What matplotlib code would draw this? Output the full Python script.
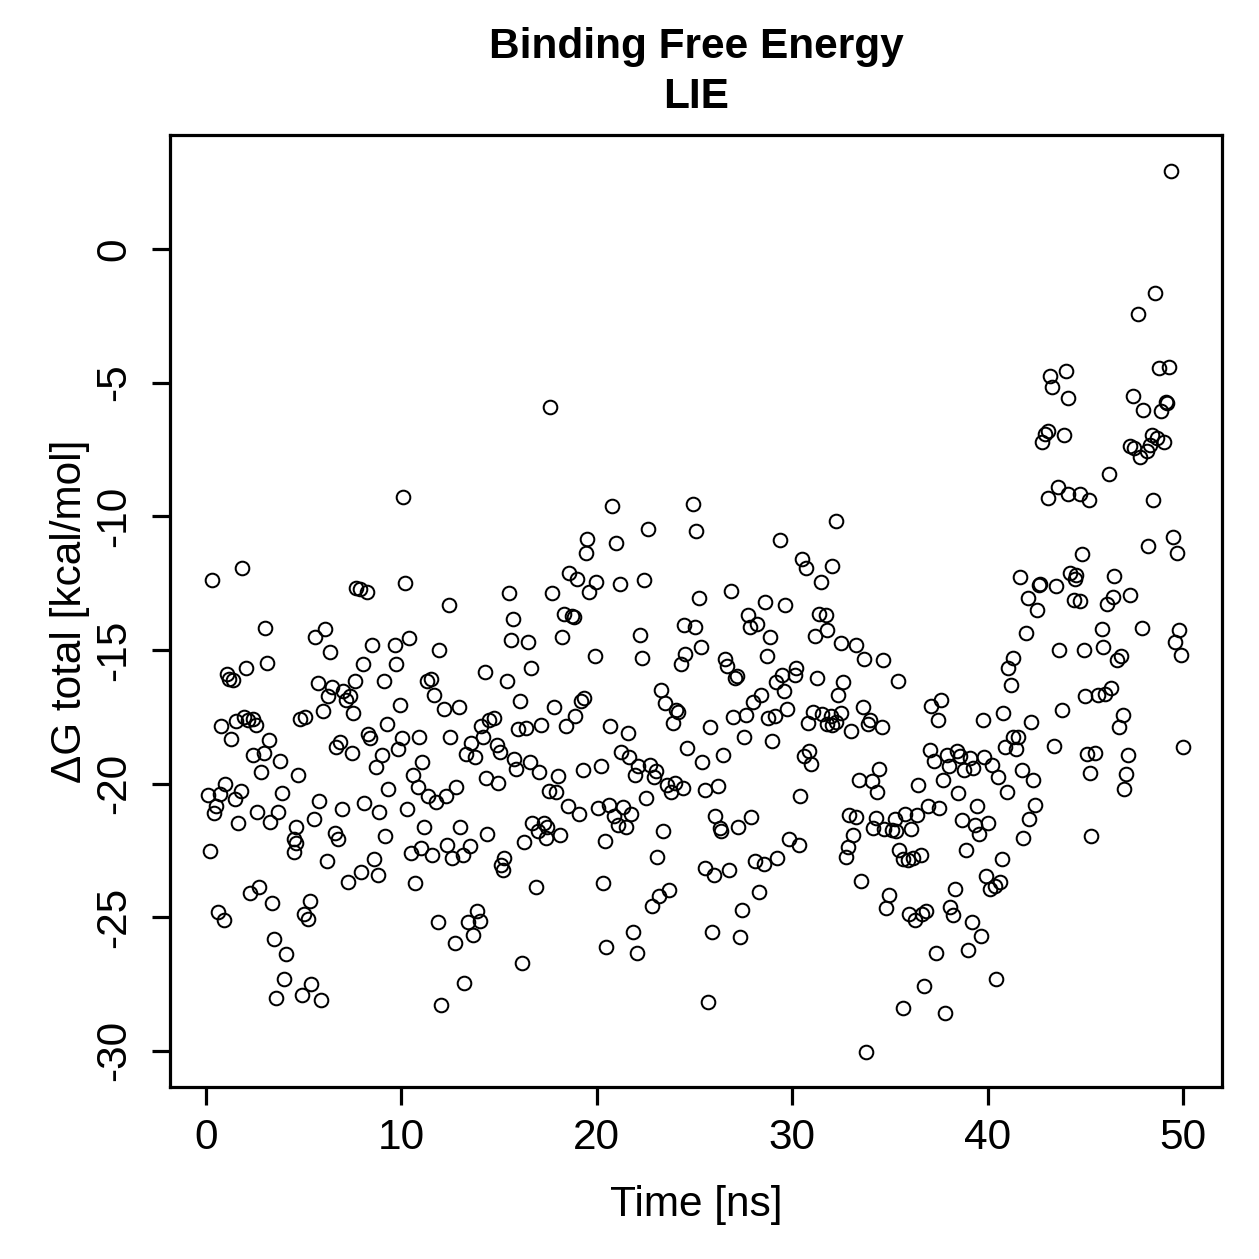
import matplotlib
matplotlib.use("Agg")
import matplotlib.pyplot as plt

# Simulation time [ns] and LIE binding free energy [kcal/mol]
time_ns = [
    0.31, 1.86, 3.02, 3.12, 2.06, 1.08, 1.20, 1.37, 0.79, 1.55,
    1.93, 2.16, 2.40, 2.56, 1.27, 3.22, 2.43, 2.96, 2.82, 3.80,
    1.00, 0.11, 0.71, 1.77, 1.47, 0.51, 0.40, 3.88, 2.63, 3.68,
    3.29, 1.65, 0.21, 2.26, 2.73, 3.40, 0.60, 0.91, 3.50, 4.08,
    3.98, 3.60,
    7.69, 7.86, 8.24, 6.07, 5.59, 6.35, 8.52, 8.04, 5.72, 6.45,
    6.25, 7.03, 7.15, 7.37, 7.64, 9.10, 7.54, 4.81, 5.09, 5.97,
    9.25, 8.31, 8.41, 6.87, 6.67, 7.45, 9.00, 8.69, 4.73, 9.30,
    5.80, 6.95, 8.11, 8.87, 5.51, 4.63, 4.51, 4.60, 4.50, 6.59,
    6.78, 9.15, 6.17, 8.59, 7.93, 8.79, 7.25, 5.33, 5.03, 5.23,
    5.39, 4.91, 5.89,
    10.11, 10.19, 12.43, 10.41, 9.65, 11.95, 9.75, 14.27, 11.29, 11.50,
    11.67, 12.16, 12.93, 9.91, 10.05, 9.82, 10.89, 12.51, 14.07, 14.50,
    14.19, 13.59, 13.29, 13.79, 11.07, 10.58, 10.84, 11.37, 11.79, 12.27,
    12.81, 10.28, 14.32, 11.14, 12.98, 14.39, 10.51, 10.99, 11.57, 12.36,
    12.61, 13.16, 13.51, 10.68, 11.87, 13.39, 13.89, 14.04, 13.69, 12.73,
    13.23, 12.05,
    17.63, 19.50, 19.44, 18.59, 19.01, 19.59, 15.51, 17.73, 18.31, 18.71,
    18.84, 15.70, 15.63, 16.47, 18.21, 16.64, 15.39, 16.07, 17.81, 19.17,
    19.37, 18.89, 14.76, 15.96, 16.39, 17.15, 18.41, 14.87, 15.03, 15.78,
    15.89, 16.57, 17.05, 18.03, 19.29, 14.96, 17.55, 17.93, 18.51, 19.09,
    16.69, 16.99, 17.32, 17.43, 17.38, 18.11, 16.27, 15.26, 15.10, 15.19,
    16.89, 16.16,
    20.78, 22.60, 20.98, 19.98, 21.18, 22.44, 22.22, 24.46, 19.93, 22.33,
    24.54, 24.29, 23.31, 23.51, 24.04, 24.16, 23.89, 20.70, 21.59, 24.62,
    21.26, 21.66, 22.13, 21.97, 22.72, 23.04, 22.93, 20.20, 23.59, 23.99,
    23.79, 24.41, 22.53, 20.07, 20.61, 20.90, 21.36, 21.76, 21.11, 21.49,
    23.41, 20.40, 23.09, 20.31, 23.71, 23.21, 22.83, 21.85, 20.48, 22.05,
    24.93, 25.10, 29.38, 25.21, 26.86, 28.61, 29.66, 27.75, 27.83, 28.21,
    25.02, 28.88, 25.32, 28.70, 26.56, 26.67, 27.06, 27.17, 29.49, 29.16,
    29.57, 28.41, 28.01, 26.95, 27.62, 28.75, 29.11, 29.74, 27.52, 28.99,
    25.80, 25.40, 26.46, 25.56, 26.19, 26.06, 26.29, 26.36, 27.25, 27.92,
    29.82, 25.52, 25.98, 26.75, 28.08, 28.55, 29.24, 28.30, 27.45, 25.88,
    27.34, 25.68,
    32.26, 30.52, 30.72, 32.04, 31.46, 31.35, 31.71, 31.78, 31.16, 32.50,
    33.28, 33.69, 34.66, 30.18, 30.14, 31.28, 32.62, 32.37, 31.08, 30.80,
    31.55, 31.79, 32.01, 32.04, 32.26, 32.49, 33.61, 33.86, 33.99, 34.58,
    33.00, 30.88, 30.60, 30.98, 34.44, 33.40, 34.11, 34.36, 30.38, 32.90,
    33.28, 33.12, 32.84, 32.74, 34.28, 34.16, 34.72, 30.35, 33.50, 34.94,
    34.82, 33.80,
    35.42, 37.12, 37.62, 37.44, 39.77, 37.06, 37.24, 37.92, 38.43, 38.57,
    38.03, 38.78, 39.11, 39.28, 39.84, 37.74, 36.46, 38.49, 39.48, 36.96,
    37.52, 38.70, 39.35, 39.58, 40.00, 35.25, 35.78, 36.38, 35.09, 35.34,
    36.08, 35.47, 35.67, 35.92, 36.17, 36.60, 38.90, 39.94, 40.14, 38.32,
    38.10, 38.23, 35.99, 36.66, 36.86, 36.28, 39.18, 39.68, 38.98, 37.36,
    36.75, 35.67, 37.82, 40.25,
    43.19, 44.02, 43.30, 44.10, 42.77, 42.94, 43.07, 43.90, 43.11, 43.60,
    44.13, 44.73, 45.17, 44.84, 41.65, 42.69, 42.61, 43.52, 44.23, 44.51,
    44.46, 44.40, 44.73, 42.08, 42.54, 41.97, 43.65, 44.96, 41.31, 41.03,
    41.20, 45.01, 43.80, 40.78, 42.24, 41.28, 41.58, 40.87, 41.45, 43.40,
    45.09, 45.26, 40.54, 40.98, 41.75, 42.31, 42.41, 42.14, 41.83, 45.29,
    40.72, 40.37, 40.65, 40.42,
    49.37, 48.57, 47.71, 48.79, 49.30, 47.46, 47.97, 48.86, 49.13, 49.20,
    48.40, 48.65, 49.03, 47.29, 47.49, 48.31, 48.14, 47.80, 46.23, 48.45,
    48.22, 49.50, 49.71, 46.47, 47.29, 46.40, 46.09, 45.84, 45.92, 46.61,
    46.81, 47.89, 49.81, 49.59, 49.88, 45.66, 46.01, 46.30, 46.91, 46.74,
    45.49, 47.20, 47.08, 47.00, 50.00,
]

dg_total = [
    -12.38, -11.95, -14.18, -15.50, -15.69, -15.90, -16.09, -16.12, -17.85, -17.67,
    -17.52, -17.61, -17.57, -17.80, -18.33, -18.38, -18.95, -18.87, -19.57, -19.15,
    -20.02, -20.44, -20.39, -20.27, -20.59, -20.85, -21.09, -20.35, -21.05, -21.05,
    -21.44, -21.46, -22.54, -24.11, -23.88, -24.46, -24.79, -25.09, -25.81, -26.38,
    -27.32, -28.03,
    -12.70, -12.74, -12.82, -14.21, -14.50, -15.08, -14.81, -15.53, -16.24, -16.37,
    -16.72, -16.53, -16.87, -16.72, -16.16, -16.18, -17.37, -17.57, -17.52, -17.29,
    -17.78, -18.14, -18.28, -18.44, -18.64, -18.84, -18.94, -19.38, -19.68, -20.21,
    -20.67, -20.95, -20.74, -21.07, -21.32, -21.63, -22.07, -22.24, -22.56, -21.85,
    -22.09, -21.96, -22.89, -22.82, -23.31, -23.42, -23.69, -24.39, -24.89, -25.06,
    -27.48, -27.89, -28.10,
    -9.29, -12.51, -13.33, -14.54, -14.83, -15.01, -15.53, -15.81, -16.18, -16.07,
    -16.67, -17.21, -17.12, -17.07, -18.29, -18.70, -18.24, -18.24, -17.84, -17.61,
    -18.27, -18.50, -18.89, -19.01, -19.21, -19.68, -20.11, -20.48, -20.68, -20.45,
    -20.14, -20.95, -19.78, -21.61, -21.61, -21.89, -22.58, -22.41, -22.66, -22.30,
    -22.79, -22.66, -22.35, -23.72, -25.16, -25.16, -24.75, -25.14, -25.66, -25.95,
    -27.46, -28.30,
    -5.90, -10.87, -11.37, -12.13, -12.33, -12.82, -12.88, -12.88, -13.64, -13.75,
    -13.78, -13.84, -14.64, -14.72, -14.51, -15.68, -16.18, -16.92, -17.14, -16.92,
    -16.81, -17.47, -17.56, -17.95, -17.91, -17.80, -17.85, -18.54, -18.82, -19.07,
    -19.46, -19.21, -19.57, -19.72, -19.51, -19.97, -20.28, -20.32, -20.85, -21.12,
    -21.48, -21.78, -21.49, -21.61, -22.02, -21.92, -22.18, -22.79, -23.04, -23.25,
    -23.88, -26.70,
    -9.60, -10.46, -10.99, -12.47, -12.54, -12.38, -14.43, -14.08, -15.24, -15.32,
    -15.14, -15.54, -16.49, -16.97, -17.24, -17.33, -17.74, -17.85, -18.10, -18.66,
    -18.82, -18.99, -19.35, -19.67, -19.29, -19.52, -19.75, -19.35, -20.06, -19.97,
    -20.31, -20.18, -20.54, -20.92, -20.82, -21.21, -20.88, -21.14, -21.56, -21.61,
    -21.78, -22.13, -22.73, -23.71, -23.99, -24.22, -24.59, -25.55, -26.11, -26.32,
    -9.53, -10.57, -10.88, -13.07, -12.80, -13.21, -13.31, -13.71, -14.14, -14.04,
    -14.14, -14.53, -14.90, -15.21, -15.35, -15.60, -16.04, -15.97, -15.93, -16.21,
    -16.52, -16.68, -16.95, -17.52, -17.42, -17.56, -17.46, -17.21, -18.24, -18.39,
    -17.87, -19.21, -18.92, -20.23, -20.09, -21.21, -21.68, -21.78, -21.61, -21.24,
    -22.06, -23.16, -23.42, -23.23, -22.89, -23.01, -22.78, -24.06, -24.72, -25.56,
    -25.75, -28.17,
    -10.18, -11.61, -11.95, -11.87, -12.47, -13.67, -13.71, -14.24, -14.47, -14.75,
    -14.83, -15.35, -15.39, -15.67, -15.95, -16.04, -16.21, -16.68, -17.33, -17.75,
    -17.41, -17.78, -17.46, -17.81, -17.71, -17.35, -17.14, -17.78, -17.61, -17.88,
    -18.02, -18.78, -18.96, -19.28, -19.45, -19.85, -19.92, -20.32, -20.45, -21.16,
    -21.25, -21.92, -22.38, -22.75, -21.28, -21.66, -21.71, -22.28, -23.64, -24.18,
    -24.66, -30.03,
    -16.18, -17.10, -16.87, -17.61, -17.61, -18.74, -19.14, -18.95, -18.78, -18.98,
    -19.35, -19.49, -19.06, -19.41, -19.01, -19.85, -20.06, -20.35, -20.85, -20.85,
    -20.92, -21.35, -21.56, -21.89, -21.46, -21.32, -21.15, -21.16, -21.75, -21.78,
    -21.71, -22.49, -22.82, -22.85, -22.78, -22.66, -22.49, -23.45, -23.95, -23.96,
    -24.61, -24.92, -24.88, -24.89, -24.78, -25.09, -25.16, -25.72, -26.21, -26.33,
    -27.59, -28.38, -28.59, -19.30,
    -4.77, -4.56, -5.18, -5.56, -7.24, -6.93, -6.81, -6.95, -9.33, -8.89,
    -9.15, -9.15, -9.38, -11.43, -12.27, -12.54, -12.59, -12.62, -12.13, -12.18,
    -12.36, -13.15, -13.18, -13.06, -13.50, -14.38, -14.99, -14.99, -15.30, -15.66,
    -16.30, -16.71, -17.25, -17.36, -17.71, -18.26, -18.26, -18.63, -18.72, -18.58,
    -18.90, -19.60, -19.76, -20.33, -19.49, -19.86, -20.81, -21.33, -22.05, -21.96,
    -22.84, -23.84, -23.70, -27.31,
    2.90, -1.65, -2.42, -4.45, -4.43, -5.51, -6.02, -6.05, -5.71, -5.76,
    -6.95, -7.06, -7.23, -7.38, -7.46, -7.34, -7.57, -7.80, -8.42, -9.38,
    -11.13, -10.77, -11.36, -12.25, -12.93, -13.03, -13.29, -14.22, -14.91, -15.38,
    -15.22, -14.17, -14.25, -14.71, -15.19, -16.69, -16.66, -16.43, -17.42, -17.88,
    -18.85, -18.93, -19.66, -20.21, -18.65,
]

x_ticks = [0, 10, 20, 30, 40, 50]
y_ticks = [0, -5, -10, -15, -20, -25, -30]

title_text = "Binding Free Energy\nLIE"
x_label = "Time [ns]"
y_label = "\u0394G total [kcal/mol]"

plt.rcParams['font.family'] = ['Liberation Sans', 'DejaVu Sans']

fig = plt.figure(figsize=(12.59, 12.59), dpi=100)
ax = fig.add_axes([170 / 1259, 1 - 1087 / 1259, (1222 - 170) / 1259, (1087 - 135) / 1259])

ax.plot(time_ns, dg_total, linestyle='none', marker='o', markersize=9.8,
        markerfacecolor='none', markeredgecolor='black', markeredgewidth=1.45)

ax.set_xlim(-1.84, 52.0)
ax.set_ylim(-31.35, 4.26)
ax.set_xticks(x_ticks)
ax.set_yticks(y_ticks)
ax.set_xticklabels([str(t) for t in x_ticks])
ax.set_yticklabels([str(t) for t in y_ticks], rotation=90, va='center')

for s in ax.spines.values():
    s.set_linewidth(2.3)
ax.tick_params(axis='both', direction='out', length=13, width=2.3, labelsize=30.5)
ax.tick_params(axis='x', pad=9)
ax.tick_params(axis='y', pad=13)

ax.set_xlabel(x_label, fontsize=30.5, labelpad=20)
ax.set_ylabel(y_label, fontsize=30.5, labelpad=3)

fig.text(696 / 1259, 1 - 72 / 1259, title_text, ha='center', va='center',
         fontsize=30.5, fontweight='bold', linespacing=1.3)

fig.savefig('out.png', dpi=100)
plt.close()
